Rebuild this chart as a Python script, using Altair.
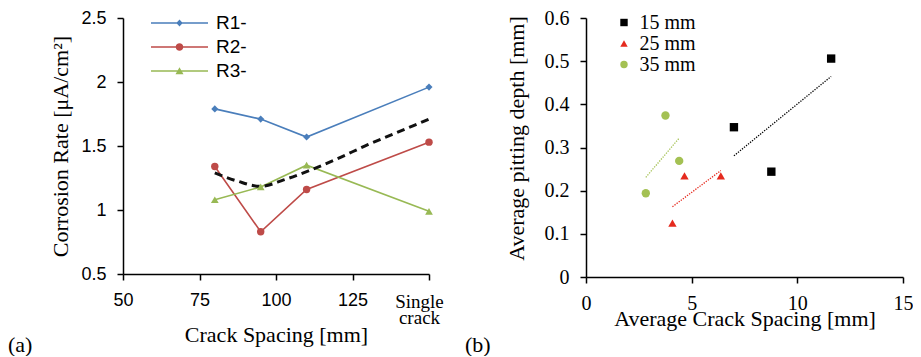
import altair as alt
import pandas as pd

SERIF = "Liberation Serif"
SANS = "Liberation Sans"

# ---------------- Panel (a) data ----------------
series_a = ["R1-", "R2-", "R3-"]
spacing_a = [80, 95, 110, 150]
r1_vals = [1.79, 1.71, 1.57, 1.96]
r2_vals = [1.34, 0.83, 1.16, 1.53]
r3_vals = [1.08, 1.18, 1.35, 0.99]
colors_a = ["#4A7EBB", "#BE4B48", "#98B954"]
trend_x = [80, 87.5, 95, 102.5, 110, 120, 130, 140, 150]
trend_y = [1.29, 1.225, 1.185, 1.235, 1.30, 1.40, 1.51, 1.61, 1.71]
x_ticks_a = [50, 75, 100, 125, 150]
y_ticks_a = [0.5, 1, 1.5, 2, 2.5]

# ---------------- Panel (b) data ----------------
groups_b = ["15 mm", "25 mm", "35 mm"]
x_15 = [7.0, 8.77, 11.6]
y_15 = [0.347, 0.244, 0.506]
x_25 = [4.09, 4.66, 6.38]
y_25 = [0.125, 0.234, 0.234]
x_35 = [2.83, 3.76, 4.41]
y_35 = [0.194, 0.374, 0.269]
colors_b = ["#000000", "#E52A1E", "#A4C153"]
x_ticks_b = [0, 5, 10, 15]
y_ticks_b = [0, 0.1, 0.2, 0.3, 0.4, 0.5, 0.6]

# ---------------- tables ----------------
rows_a = []
for name, vals in zip(series_a, [r1_vals, r2_vals, r3_vals]):
    for xv, yv in zip(spacing_a, vals):
        rows_a.append({"series": name, "x": xv, "y": yv})
df_a = pd.DataFrame(rows_a)
df_trend = pd.DataFrame({"x": trend_x, "y": trend_y})

rows_b = []
for name, xs, ys in zip(groups_b, [x_15, x_25, x_35], [y_15, y_25, y_35]):
    for xv, yv in zip(xs, ys):
        rows_b.append({"grp": name, "x": xv, "y": yv})
df_b = pd.DataFrame(rows_b)

# ---------------- Panel (a) ----------------
W_A, H_A = 306, 256
cond150 = "datum.value == 150"
xa = alt.X(
    "x:Q",
    scale=alt.Scale(domain=[50, 150], nice=False, zero=False),
    axis=alt.Axis(
        values=x_ticks_a,
        title="Crack Spacing [mm]",
        labelExpr="datum.value == 150 ? ['Single', 'crack'] : datum.label",
        labelFont={"condition": {"test": cond150, "value": SERIF}, "value": SANS},
        labelFontSize={"condition": {"test": cond150, "value": 19}, "value": 18},
        labelOffset={"condition": {"test": cond150, "value": -10}, "value": 0},
        labelPadding={"condition": {"test": cond150, "value": 12}, "value": 11},
        labelLineHeight=16,
        labelFlush=False,
        titleY=50,
    ),
)
ya = alt.Y(
    "y:Q",
    scale=alt.Scale(domain=[0.5, 2.5], nice=False, zero=False),
    axis=alt.Axis(
        values=y_ticks_a,
        format="~g",
        title="Corrosion Rate [\u03bcA/cm\u00b2]",
        labelFont=SANS,
        labelFontSize=18,
        labelPadding=11,
        titlePadding=8,
    ),
)
color_a = alt.Scale(domain=series_a, range=colors_a)

lines_a = alt.Chart(df_a).mark_line(strokeWidth=1.6).encode(
    x=xa, y=ya, color=alt.Color("series:N", scale=color_a, legend=None)
)
trend_a = alt.Chart(df_trend).mark_line(
    color="#111111", strokeWidth=3, strokeDash=[8, 5], interpolate="monotone"
).encode(x=xa, y=ya)
points_a = alt.Chart(df_a).mark_point(filled=True, opacity=1).encode(
    x=xa,
    y=ya,
    color=alt.Color("series:N", scale=color_a, legend=None),
    shape=alt.Shape("series:N", scale=alt.Scale(domain=series_a, range=["diamond", "circle", "triangle-up"]), legend=None),
    size=alt.Size("series:N", scale=alt.Scale(domain=series_a, range=[50, 60, 75]), legend=None),
)

# legend symbol: a line segment with the series marker (units: 1 = 5 px)
line_part = "M-5.7,-0.15H5.7V0.15H-5.7Z"
legend_paths = [
    line_part + "M0,-0.72L0.64,0L0,0.72L-0.64,0Z",
    line_part + "M-0.76,0A0.76,0.76,0,1,1,0.76,0A0.76,0.76,0,1,1,-0.76,0Z",
    line_part + "M0,-0.75L0.8,0.65L-0.8,0.65Z",
]
leg_a = dict(
    orient="none", legendX=47, legendY=-4.5, title=None, labelFont=SANS, labelFontSize=19,
    labelColor="black", symbolSize=100, symbolStrokeWidth=0, labelOffset=27, padding=0, rowPadding=4,
)
legend_layer_a = alt.Chart(df_a).transform_filter("false").mark_point(filled=True, opacity=1).encode(
    x=xa,
    y=ya,
    color=alt.Color("series:N", scale=color_a, legend=alt.Legend(**leg_a)),
    shape=alt.Shape("series:N", scale=alt.Scale(domain=series_a, range=legend_paths), legend=alt.Legend(**leg_a)),
)
label_a = alt.Chart(pd.DataFrame({"t": ["(a)"]})).mark_text(
    font=SERIF, fontSize=22, align="left", baseline="middle", color="black"
).encode(text="t:N", x=alt.value(-115), y=alt.value(327))

chart_a = alt.layer(lines_a, trend_a, points_a, legend_layer_a, label_a).resolve_scale(
    color="independent", shape="independent", size="independent"
).properties(width=W_A, height=H_A)

# ---------------- Panel (b) ----------------
W_B, H_B = 317, 259
xb = alt.X(
    "x:Q",
    scale=alt.Scale(domain=[0, 15], nice=False),
    axis=alt.Axis(values=x_ticks_b, title="Average Crack Spacing [mm]", labelFlush=False,
                  labelPadding=10, titleY=31),
)
yb = alt.Y(
    "y:Q",
    scale=alt.Scale(domain=[0, 0.6], nice=False),
    axis=alt.Axis(values=y_ticks_b, format="~g", title="Average pitting depth [mm]",
                  labelPadding=11, titlePadding=16, titleY=120),
)
color_b = alt.Scale(domain=groups_b, range=colors_b)
leg_b = dict(
    orient="none", legendX=28, legendY=-5.5, title=None, labelFont=SERIF, labelFontSize=20,
    labelColor="black", symbolSize=55, labelOffset=5.5, padding=0, rowPadding=1,
)
points_b = alt.Chart(df_b).mark_point(filled=True, opacity=1, size=70).encode(
    x=xb,
    y=yb,
    color=alt.Color("grp:N", scale=color_b, legend=alt.Legend(**leg_b)),
    shape=alt.Shape("grp:N", scale=alt.Scale(domain=groups_b, range=["square", "triangle-up", "circle"]),
                    legend=alt.Legend(**leg_b)),
)
trend_b = alt.Chart(df_b).transform_regression("x", "y", groupby=["grp"]).mark_line(
    strokeWidth=1.3, strokeDash=[1.3, 1.3]
).encode(x=xb, y=yb, color=alt.Color("grp:N", scale=color_b, legend=None))
label_b = alt.Chart(pd.DataFrame({"t": ["(b)"]})).mark_text(
    font=SERIF, fontSize=22, align="left", baseline="middle", color="black"
).encode(text="t:N", x=alt.value(-121), y=alt.value(327))

chart_b = alt.layer(trend_b, points_b, label_b).resolve_scale(
    color="independent", shape="independent"
).properties(width=W_B, height=H_B)

chart = alt.hconcat(chart_a, chart_b, spacing=21).properties(
    padding=0, background="white"
).configure_view(
    stroke=None
).configure_axis(
    grid=False,
    domainColor="black",
    domainWidth=1.5,
    tickColor="black",
    tickWidth=1.5,
    tickSize=6,
    labelColor="black",
    labelFont=SERIF,
    labelFontSize=20,
    titleFont=SERIF,
    titleFontSize=22,
    titleFontWeight="normal",
    titleColor="black",
)

chart.save("out.html", embed_options={"renderer": "svg", "actions": False})
